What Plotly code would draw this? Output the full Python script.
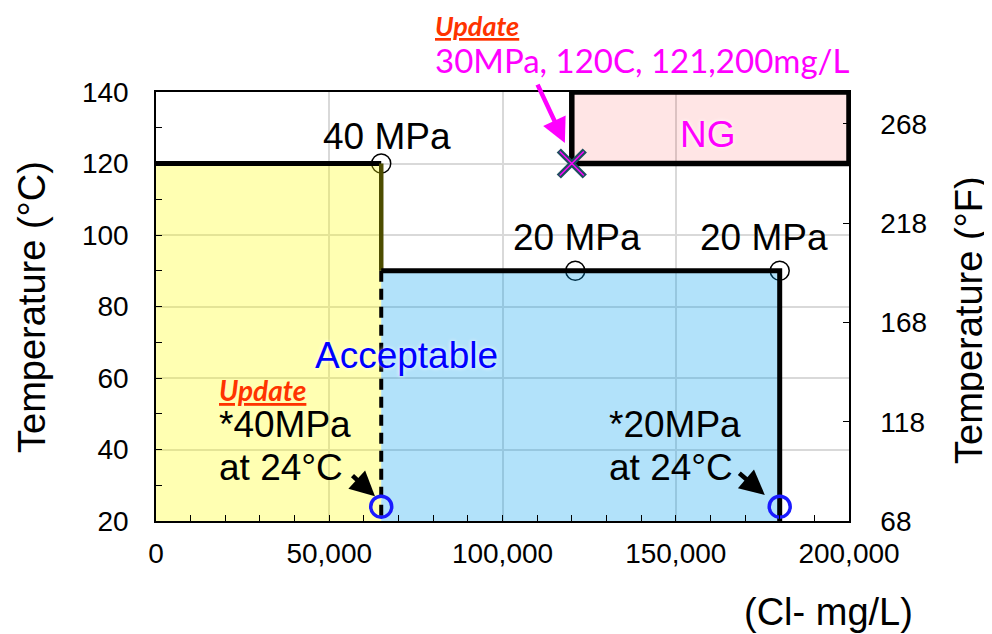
import plotly.graph_objects as go

# ---- data ----
cl_ticks = [0, 50000, 100000, 150000, 200000]
degc_ticks = [20, 40, 60, 80, 100, 120, 140]
degf_ticks = [68, 118, 168, 218, 268]

# 40 MPa region (yellow)
zone40_cl = [0, 0, 65000, 65000, 0]
zone40_t = [20, 120, 120, 20, 20]
# 20 MPa region (blue)
zone20_cl = [65000, 65000, 180000, 180000, 65000]
zone20_t = [20, 90, 90, 20, 20]
# NG region
ng_cl = [120000, 120000, 200000, 200000, 120000]
ng_t = [120, 140, 140, 120, 120]

# boundary lines
top40_cl = [0, 65000]
top40_t = [120, 120]
step_cl = [65000, 65000]
step_t = [120, 90]
dash_cl = [65000, 65000]
dash_t = [90, 20]
top20_cl = [65000, 180000, 180000]
top20_t = [90, 90, 20]

# rated points
pt_cl = [65000, 121000, 180000]
pt_t = [120, 90, 90]
pt_labels = ["40 MPa", "20 MPa", "20 MPa"]
low_cl = [65000, 180000]
low_t = [24, 24]
upd_cl = [120000]
upd_t = [120]

FONT = "Liberation Sans, Arial, sans-serif"
CAL = "Lato, Carlito, Calibri, sans-serif"

# page body has an 8px margin -> offset the figure
OFF = 8
FW, FH = 992 - OFF, 634 - OFF
PW, PH = 693, 429
PL, PT = 156 - OFF, 92 - OFF
PR, PB = FW - PL - PW, FH - PT - PH


def px(xp):
    return (xp - 156) / PW


def py(yp):
    return (521 - yp) / PH


fig = go.Figure()

# circles first (fills tint them like the original)
fig.add_trace(go.Scatter(x=pt_cl, y=pt_t, mode="markers",
                         marker=dict(symbol="circle-open", size=19, color="black",
                                     line=dict(width=1.5)),
                         hoverinfo="skip"))

fig.add_trace(go.Scatter(x=zone40_cl, y=zone40_t, mode="lines", fill="toself",
                         fillcolor="rgba(255,255,0,0.30)", line=dict(width=0),
                         hoverinfo="skip"))
fig.add_trace(go.Scatter(x=zone20_cl, y=zone20_t, mode="lines", fill="toself",
                         fillcolor="rgba(0,160,240,0.30)", line=dict(width=0),
                         hoverinfo="skip"))
fig.add_trace(go.Scatter(x=ng_cl, y=ng_t, mode="lines", fill="toself",
                         fillcolor="rgba(255,0,0,0.10)", line=dict(color="black", width=5.5),
                         hoverinfo="skip"))

fig.add_trace(go.Scatter(x=top40_cl, y=top40_t, mode="lines",
                         line=dict(color="black", width=5), hoverinfo="skip"))
fig.add_trace(go.Scatter(x=step_cl, y=step_t, mode="lines",
                         line=dict(color="#4d4d00", width=4.5), hoverinfo="skip"))
fig.add_trace(go.Scatter(x=dash_cl, y=dash_t, mode="lines",
                         line=dict(color="black", width=4, dash="11px,7px"), hoverinfo="skip"))
fig.add_trace(go.Scatter(x=top20_cl, y=top20_t, mode="lines",
                         line=dict(color="black", width=5), hoverinfo="skip"))

fig.add_trace(go.Scatter(x=low_cl, y=low_t, mode="markers",
                         marker=dict(symbol="circle-open", size=21, color="#1a1aff",
                                     line=dict(width=3.5)),
                         hoverinfo="skip"))
fig.add_trace(go.Scatter(x=upd_cl, y=upd_t, mode="markers",
                         marker=dict(symbol="x-thin-open", size=26, color="#1f4e5f",
                                     line=dict(width=6)),
                         hoverinfo="skip"))
fig.add_trace(go.Scatter(x=upd_cl, y=upd_t, mode="markers",
                         marker=dict(symbol="x-thin-open", size=24, color="#ff00ff",
                                     line=dict(width=1.5)),
                         hoverinfo="skip"))
# dummy trace for right axis
fig.add_trace(go.Scatter(x=[None], y=[None], yaxis="y2", hoverinfo="skip"))

BIG = 37
anns = []
# point labels
anns.append(dict(x=pt_cl[0] + 1700, y=pt_t[0] + 7.5, text=pt_labels[0]))
anns.append(dict(x=pt_cl[1] + 500, y=pt_t[1] + 9.2, text=pt_labels[1]))
anns.append(dict(x=pt_cl[2] - 4600, y=pt_t[2] + 9.2, text=pt_labels[2]))
for a in anns:
    a.update(xref="x", yref="y", showarrow=False, xanchor="center", yanchor="middle",
             font=dict(family=FONT, size=BIG, color="black"))

glow = "0px 0px 4px white"
anns.append(dict(x=159300, y=128, xref="x", yref="y", text="NG", showarrow=False,
                 xanchor="center", yanchor="middle",
                 font=dict(family=FONT, size=BIG, color="#ff00ff", shadow=glow)))
anns.append(dict(x=72400, y=66.4, xref="x", yref="y", text="Acceptable", showarrow=False,
                 xanchor="center", yanchor="middle",
                 font=dict(family=FONT, size=BIG, color="#0000ff", shadow=glow)))

# left note
anns.append(dict(x=17600, y=56.6, xref="x", yref="y", text="<b><i><u>Update</u></i></b>",
                 showarrow=False, xanchor="left", yanchor="middle",
                 font=dict(family=CAL, size=28, color="#ff3300")))
anns.append(dict(x=17600, y=46.9, xref="x", yref="y", text="*40MPa", showarrow=False,
                 xanchor="left", yanchor="middle", font=dict(family=FONT, size=BIG, color="black")))
anns.append(dict(x=17600, y=35.1, xref="x", yref="y", text="at 24°C", showarrow=False,
                 xanchor="left", yanchor="middle", font=dict(family=FONT, size=BIG, color="black")))
# right note
anns.append(dict(x=130100, y=46.9, xref="x", yref="y", text="*20MPa", showarrow=False,
                 xanchor="left", yanchor="middle", font=dict(family=FONT, size=BIG, color="black")))
anns.append(dict(x=130100, y=35.1, xref="x", yref="y", text="at 24°C", showarrow=False,
                 xanchor="left", yanchor="middle", font=dict(family=FONT, size=BIG, color="black")))

# arrows
anns.append(dict(x=63200, y=26.9, xref="x", yref="y", ax=-24, ay=-22, text="",
                 showarrow=True, arrowhead=2, arrowsize=1.1, arrowwidth=4.5, arrowcolor="black"))
anns.append(dict(x=175700, y=27.3, xref="x", yref="y", ax=-27, ay=-23, text="",
                 showarrow=True, arrowhead=2, arrowsize=1.1, arrowwidth=4.5, arrowcolor="black"))
anns.append(dict(x=118000, y=125.7, xref="x", yref="y", ax=-28, ay=-60, text="",
                 showarrow=True, arrowhead=2, arrowsize=1.1, arrowwidth=4.5, arrowcolor="#ff00ff"))

# top note
anns.append(dict(x=px(434), y=py(25), xref="paper", yref="paper",
                 text="<b><i><u>Update</u></i></b>", showarrow=False,
                 xanchor="left", yanchor="middle", borderpad=0,
                 font=dict(family=CAL, size=27, color="#ff3300")))
anns.append(dict(x=px(433), y=py(60), xref="paper", yref="paper",
                 text="30MPa, 120C, 121,200mg/L", showarrow=False,
                 xanchor="left", yanchor="middle",
                 font=dict(family=CAL, size=33, color="#ff00ff")))

# axis titles
anns.append(dict(x=px(32), y=py(307), xref="paper", yref="paper",
                 text="Temperature (°C)", textangle=-90, showarrow=False,
                 xanchor="center", yanchor="middle",
                 font=dict(family=FONT, size=38, color="black")))
anns.append(dict(x=px(969), y=py(320), xref="paper", yref="paper",
                 text="Temperature (°F)", textangle=-90, showarrow=False,
                 xanchor="center", yanchor="middle",
                 font=dict(family=FONT, size=38, color="black")))
anns.append(dict(x=px(828), y=py(612), xref="paper", yref="paper",
                 text="(Cl- mg/L)", showarrow=False,
                 xanchor="center", yanchor="middle",
                 font=dict(family=FONT, size=38, color="black")))

fig.update_layout(
    width=FW, height=FH,
    margin=dict(l=PL, r=PR, t=PT, b=PB, autoexpand=False),
    paper_bgcolor="white", plot_bgcolor="white",
    showlegend=False,
    font=dict(family=FONT, size=28, color="black"),
    annotations=anns,
    xaxis=dict(range=[0, 200000], tickvals=cl_ticks, tickformat=",",
               showgrid=True, gridcolor="#d9d9d9", gridwidth=1.5,
               ticks="inside", ticklen=6, tickcolor="black",
               minor=dict(dtick=10000, ticks="inside", ticklen=6, tickcolor="black", showgrid=False),
               showline=True, linecolor="black", linewidth=1.5, mirror=True,
               zeroline=False, ticklabelstandoff=7, fixedrange=True),
    yaxis=dict(range=[20, 140], tickvals=degc_ticks,
               showgrid=True, gridcolor="#d9d9d9", gridwidth=1.5,
               ticks="inside", ticklen=6, tickcolor="black",
               minor=dict(dtick=10, ticks="inside", ticklen=6, tickcolor="black", showgrid=False),
               showline=True, linecolor="black", linewidth=1.5, mirror=True,
               zeroline=False, ticklabelstandoff=20, fixedrange=True),
    yaxis2=dict(range=[68, 284], tickvals=degf_ticks, overlaying="y", side="right",
                showgrid=False, ticks="inside", ticklen=6, tickcolor="black",
                showline=True, linecolor="black", linewidth=1.5,
                zeroline=False, ticklabelstandoff=24, fixedrange=True),
)

fig.write_html("out.html")
